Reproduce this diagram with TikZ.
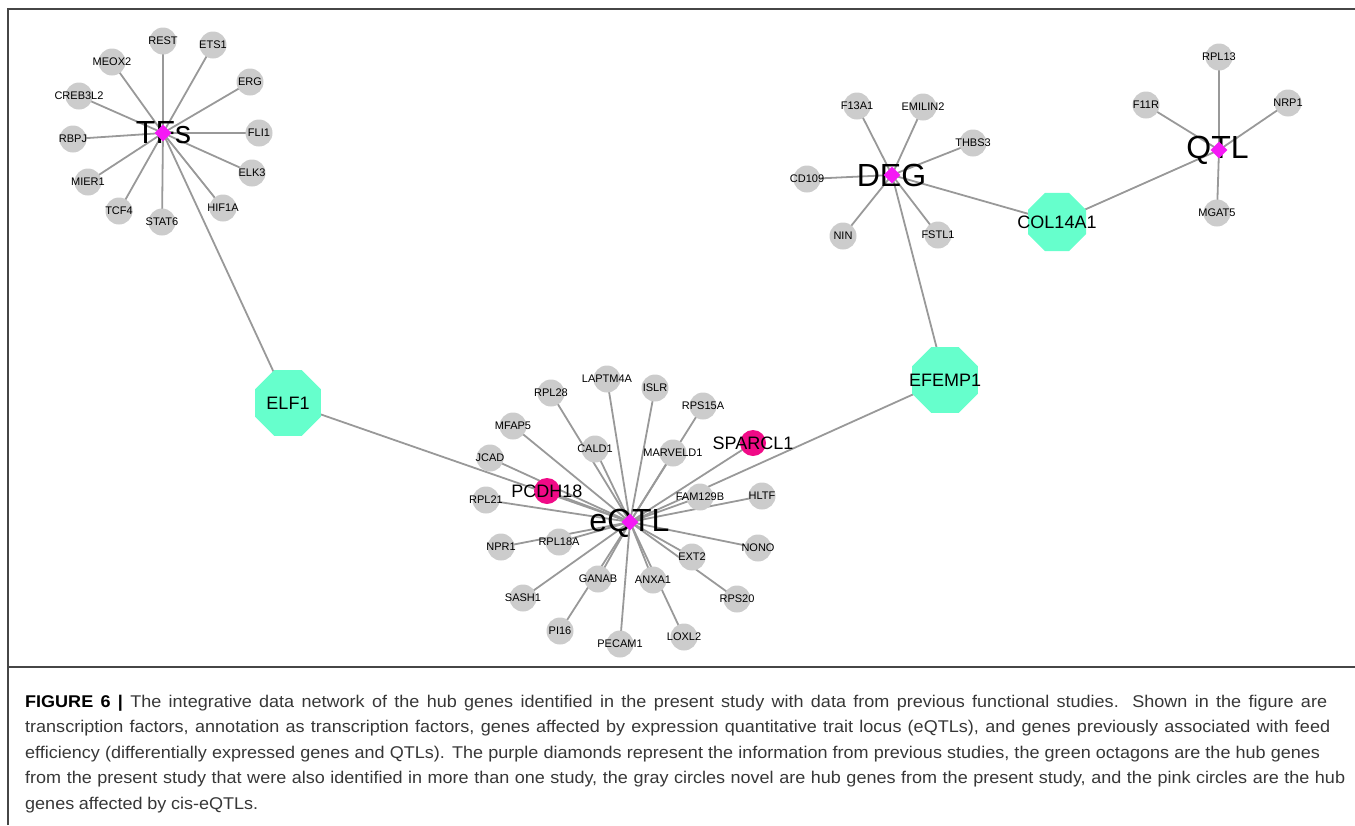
\documentclass[tikz,border=0pt]{standalone}
\usepackage{fontspec}
\setmainfont{Liberation Sans}
\newfontfamily\capfont[FakeStretch=1.06]{Liberation Sans}
\usetikzlibrary{shapes.geometric}
\pgfdeclarelayer{background}
\pgfsetlayers{background,main}
\definecolor{edgegray}{RGB}{153,153,153}
\definecolor{nodegray}{RGB}{204,204,204}
\definecolor{octgreen}{RGB}{102,255,204}
\definecolor{hubmag}{RGB}{245,25,245}
\definecolor{pinkc}{RGB}{240,10,135}
\definecolor{framegray}{RGB}{70,70,70}
\definecolor{captext}{RGB}{55,55,55}
\tikzset{
  leaf/.style={circle, fill=nodegray, minimum size=27pt, inner sep=0pt},
  leaflabel/.style={font=\fontsize{11}{13}\selectfont, inner sep=0pt},
  pinknode/.style={circle, fill=pinkc, minimum size=26pt, inner sep=0pt},
  midlabel/.style={font=\fontsize{18}{20}\selectfont, inner sep=0pt},
  oct/.style={regular polygon, regular polygon sides=8, fill=octgreen, minimum size=#1, inner sep=0pt},
  oct/.default=71.4pt,
  hub/.style={diamond, fill=hubmag, minimum width=17pt, minimum height=17pt, inner sep=0pt},
  hublabel/.style={font=\fontsize{32}{34}\selectfont, inner sep=0pt},
  edge/.style={edgegray, line width=1.8pt},
  caption/.style={anchor=base west, inner sep=0pt, font=\capfont\fontsize{17}{20}\selectfont, text=captext}
}
\begin{document}
\begin{tikzpicture}[x=1pt,y=-1pt]
\useasboundingbox (0,0) rectangle (1355,825);
% frame
\draw[framegray, line width=1.2pt] (8,825) -- (8,9) -- (1355,9);
\draw[framegray, line width=1.2pt] (8,667) -- (1355,667);

% hub labels and hubs
\node[hublabel] (tfsl) at (163.5,133) {TFs};
\node[hub] (tfs) at (163,133) {};
\node[hublabel] (degl) at (891.5,175) {DEG};
\node[hub] (deg) at (892,175) {};
\node[hublabel] (qtll) at (1217.5,150) {QTL};
\node[hub] (qtl) at (1219,150) {};
\node[hublabel] (eqtll) at (629.5,523) {eQTL};
\node[hub] (eqtl) at (630,522) {};

% octagons
\node[oct, label={[midlabel]center:ELF1}] (elf1) at (288,403) {};
\node[oct, label={[midlabel]center:EFEMP1}] (efemp1) at (945,380) {};
\node[oct=62.8pt, label={[midlabel]center:COL14A1}] (col14a1) at (1057,222) {};

% pink
\node[pinknode, label={[midlabel]center:PCDH18}] (pcdh18) at (547,491) {};
\node[pinknode, label={[midlabel]center:SPARCL1}] (sparcl1) at (753,443) {};

% TF leaves
\foreach \n/\x/\y in {REST/163/41, ETS1/213/45, ERG/250/82, FLI1/259/133, ELK3/252/173, HIF1A/223/208, STAT6/162/222, TCF4/119/211, MIER1/88/182, RBPJ/73/139, CREB3L2/79/96, MEOX2/112/62}{
  \node[leaf, label={[leaflabel]center:\n}] (\n) at (\x,\y) {};
  \begin{pgfonlayer}{background}\draw[edge] (tfs.center) -- (\n.center);\end{pgfonlayer}
}
% DEG leaves
\foreach \n/\x/\y in {F13A1/857/106, EMILIN2/923/107, THBS3/973/143, CD109/807/179, NIN/843/236, FSTL1/938/235}{
  \node[leaf, label={[leaflabel]center:\n}] (\n) at (\x,\y) {};
  \begin{pgfonlayer}{background}\draw[edge] (deg.center) -- (\n.center);\end{pgfonlayer}
}
% QTL leaves
\foreach \n/\x/\y in {RPL13/1219/57, F11R/1146/105, NRP1/1288/103, MGAT5/1217/213}{
  \node[leaf, label={[leaflabel]center:\n}] (\n) at (\x,\y) {};
  \begin{pgfonlayer}{background}\draw[edge] (qtl.center) -- (\n.center);\end{pgfonlayer}
}
% eQTL leaves
\foreach \n/\x/\y in {LAPTM4A/607/379, RPL28/551/393, MFAP5/513/426, JCAD/490/458, RPL21/486/500, CALD1/595/449, ISLR/655/388, RPS15A/703/406, MARVELD1/673/453, FAM129B/700/497, HLTF/762/496, NPR1/501/547, RPL18A/559/542, NONO/758/548, EXT2/692/557, GANAB/598/579, ANXA1/653/580, SASH1/523/598, RPS20/737/599, PI16/560/631, PECAM1/620/644, LOXL2/684/637}{
  \node[leaf, label={[leaflabel]center:\n}] (\n) at (\x,\y) {};
  \begin{pgfonlayer}{background}\draw[edge] (eqtl.center) -- (\n.center);\end{pgfonlayer}
}
\begin{pgfonlayer}{background}
\draw[edge] (eqtl.center) -- (pcdh18.center);
\draw[edge] (eqtl.center) -- (sparcl1.center);
\draw[edge] (tfs.center) -- (elf1.center);
\draw[edge] (elf1.center) -- (eqtl.center);
\draw[edge] (eqtl.center) -- (efemp1.center);
\draw[edge] (efemp1.center) -- (deg.center);
\draw[edge] (deg.center) -- (col14a1.center);
\draw[edge] (col14a1.center) -- (qtl.center);
\end{pgfonlayer}

% caption
\node[caption] (cap1) at (25,707) {\makebox[1302pt][s]{\textcolor{black}{\textbf{FIGURE 6 |}} The integrative data network of the hub genes identified in the present study with data from previous functional studies. Shown in the figure are}};
\node[caption] (cap2) at (25,732.5) {\makebox[1305pt][s]{transcription factors, annotation as transcription factors, genes affected by expression quantitative trait locus (eQTLs), and genes previously associated with feed}};
\node[caption] (cap3) at (25,758) {\makebox[1295pt][s]{efficiency (differentially expressed genes and QTLs). The purple diamonds represent the information from previous studies, the green octagons are the hub genes}};
\node[caption] (cap4) at (25,783.5) {\makebox[1320pt][s]{from the present study that were also identified in more than one study, the gray circles novel are hub genes from the present study, and the pink circles are the hub}};
\node[caption] (cap5) at (25,809) {\makebox[233pt][s]{genes affected by cis-eQTLs.}};
\end{tikzpicture}
\end{document}
